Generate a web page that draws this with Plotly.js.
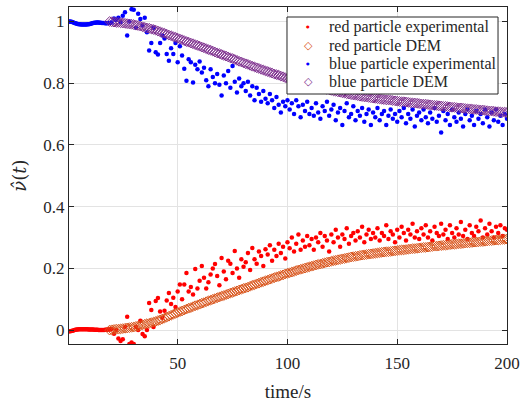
<!DOCTYPE html>
<html>
<head>
<meta charset="utf-8">
<script src="https://cdn.plot.ly/plotly-3.0.1.min.js"></script>
<style>html,body{margin:0;padding:0;background:#fff;}#chart{width:527px;height:403px;}</style>
</head>
<body>
<div id="chart"></div>
<script>
// ---- sampling of the experimental record ----
var earlyStart = 0.5, earlyStep = 0.5;   // dense part, t = 0.5 .. 20
var lateStart = 21, lateStep = 1;        // scattered part, t = 21 .. 200
var demStart = 19, demStep = 1;          // DEM output, t = 19 .. 200

// ---- red particle experimental ----
var redExpEarly = [-0.004,-0.004,-0.003,-0.002,-0.001,0.0,0.001,0.002,0.002,0.003,
  0.003,0.003,0.003,0.003,0.003,0.003,0.003,0.003,0.002,0.002,
  0.002,0.002,0.002,0.001,0.001,0.001,0.001,0.0,0.0,0.0,
  0.0,0.0,0.0,0.001,0.001,0.002,0.002,0.002,0.003,0.004];
var redExpLate = [
  -0.012,0.0,-0.027,-0.035,-0.03,0.01,0.043,-0.045,-0.04,-0.045,
  0.01,0.0,0.03,-0.013,-0.02,0.0,0.088,0.065,0.01,0.094,
  0.104,0.06,0.04,0.063,0.096,0.12,0.085,0.105,0.075,0.125,
  0.148,0.1,0.148,0.185,0.125,0.14,0.115,0.198,0.135,0.16,
  0.208,0.17,0.135,0.155,0.18,0.2,0.214,0.175,0.145,0.234,
  0.19,0.165,0.225,0.215,0.185,0.256,0.2,0.17,0.23,0.205,
  0.22,0.25,0.195,0.266,0.23,0.215,0.255,0.24,0.208,0.262,
  0.245,0.275,0.225,0.26,0.24,0.28,0.25,0.27,0.232,0.285,
  0.265,0.3,0.255,0.28,0.31,0.26,0.29,0.27,0.305,0.275,
  0.295,0.26,0.3,0.285,0.315,0.27,0.305,0.29,0.255,0.31,
  0.285,0.325,0.3,0.27,0.31,0.295,0.33,0.28,0.305,0.315,
  0.29,0.32,0.3,0.335,0.285,0.31,0.325,0.295,0.315,0.3,
  0.33,0.29,0.315,0.305,0.34,0.295,0.32,0.31,0.285,0.325,
  0.3,0.335,0.315,0.29,0.325,0.31,0.345,0.3,0.32,0.295,
  0.33,0.31,0.34,0.3,0.32,0.29,0.335,0.315,0.305,0.345,
  0.31,0.325,0.295,0.34,0.315,0.3,0.33,0.31,0.35,0.305,
  0.325,0.295,0.34,0.315,0.305,0.335,0.32,0.355,0.3,0.33,
  0.31,0.345,0.32,0.3,0.335,0.315,0.34,0.305,0.33,0.325];

// ---- blue particle experimental ----
var blueExpEarly = [1.0,1.0,0.999,0.998,0.997,0.995,0.994,0.993,0.992,0.991,
  0.991,0.99,0.99,0.99,0.99,0.99,0.99,0.991,0.991,0.992,
  0.993,0.994,0.995,0.996,0.996,0.997,0.997,0.997,0.996,0.996,
  0.995,0.995,0.995,0.994,0.994,0.994,0.995,0.995,0.996,0.997];
var blueExpLate = [
  1.01,1.005,1.012,0.998,1.019,1.03,0.955,1.0,1.04,1.038,
  0.98,1.025,1.008,0.987,1.012,0.965,0.906,0.93,0.98,0.9,
  0.893,0.93,0.955,0.945,0.895,0.873,0.913,0.895,0.93,0.868,
  0.92,0.89,0.847,0.808,0.878,0.868,0.802,0.86,0.845,0.87,
  0.835,0.85,0.81,0.79,0.845,0.82,0.8,0.83,0.795,0.76,
  0.825,0.8,0.84,0.785,0.856,0.805,0.77,0.815,0.79,0.8,
  0.775,0.805,0.76,0.79,0.745,0.785,0.765,0.74,0.775,0.75,
  0.735,0.765,0.745,0.72,0.755,0.73,0.705,0.74,0.725,0.745,
  0.715,0.735,0.7,0.745,0.725,0.69,0.73,0.71,0.74,0.7,
  0.72,0.695,0.735,0.705,0.685,0.725,0.71,0.74,0.695,0.715,
  0.73,0.68,0.705,0.72,0.665,0.71,0.735,0.69,0.7,0.725,
  0.68,0.71,0.695,0.72,0.675,0.7,0.715,0.665,0.705,0.69,
  0.72,0.68,0.7,0.71,0.665,0.695,0.715,0.685,0.7,0.675,
  0.71,0.69,0.72,0.67,0.7,0.685,0.715,0.66,0.695,0.705,
  0.68,0.715,0.69,0.67,0.705,0.685,0.72,0.675,0.695,0.64,
  0.71,0.68,0.7,0.665,0.715,0.69,0.675,0.705,0.685,0.66,
  0.7,0.715,0.68,0.695,0.665,0.71,0.685,0.7,0.67,0.715,
  0.69,0.66,0.705,0.68,0.715,0.675,0.695,0.665,0.7,0.685];

// ---- DEM ----
var redDEM = [
  0.0,0.001,0.002,0.003,0.003,0.004,0.005,0.006,0.007,0.008,0.009,0.010,
  0.012,0.013,0.015,0.017,0.019,0.021,0.022,0.024,0.026,0.028,
  0.031,0.033,0.036,0.039,0.042,0.045,0.048,0.051,0.054,0.057,
  0.060,0.062,0.065,0.068,0.071,0.073,0.076,0.079,0.081,0.084,
  0.087,0.089,0.092,0.095,0.097,0.100,0.102,0.105,0.107,0.110,
  0.112,0.115,0.117,0.120,0.122,0.125,0.127,0.130,0.132,0.135,
  0.137,0.139,0.142,0.145,0.147,0.150,0.152,0.155,0.157,0.160,
  0.162,0.165,0.167,0.170,0.172,0.174,0.177,0.179,0.182,0.184,
  0.186,0.188,0.190,0.193,0.195,0.197,0.199,0.201,0.203,0.205,
  0.207,0.209,0.211,0.213,0.214,0.216,0.218,0.220,0.221,0.223,
  0.225,0.226,0.228,0.229,0.231,0.232,0.234,0.235,0.237,0.238,
  0.239,0.240,0.242,0.243,0.244,0.245,0.246,0.247,0.248,0.249,
  0.250,0.251,0.252,0.253,0.254,0.254,0.255,0.256,0.257,0.258,
  0.259,0.260,0.260,0.261,0.262,0.263,0.264,0.264,0.265,0.266,
  0.267,0.268,0.268,0.269,0.270,0.271,0.272,0.272,0.273,0.274,
  0.275,0.275,0.276,0.277,0.278,0.278,0.279,0.280,0.280,0.281,
  0.282,0.283,0.283,0.284,0.285,0.285,0.286,0.287,0.287,0.288,
  0.289,0.290,0.290,0.291,0.292,0.292,0.293,0.294,0.294,0.295];
var blueDEM = [
  1.0,0.999,0.998,0.997,0.997,0.996,0.995,0.994,0.993,0.992,0.991,0.99,
  0.988,0.987,0.985,0.983,0.981,0.979,0.978,0.976,0.974,0.972,
  0.969,0.967,0.964,0.962,0.959,0.956,0.954,0.951,0.949,0.946,
  0.943,0.941,0.938,0.935,0.933,0.930,0.928,0.925,0.923,0.920,
  0.917,0.915,0.912,0.909,0.907,0.904,0.901,0.898,0.896,0.893,
  0.890,0.888,0.885,0.882,0.880,0.877,0.874,0.871,0.869,0.866,
  0.863,0.861,0.858,0.855,0.853,0.850,0.848,0.845,0.843,0.840,
  0.838,0.835,0.833,0.830,0.828,0.826,0.823,0.821,0.818,0.816,
  0.814,0.812,0.810,0.807,0.805,0.803,0.801,0.799,0.797,0.795,
  0.793,0.791,0.789,0.787,0.786,0.784,0.782,0.780,0.779,0.777,
  0.775,0.774,0.772,0.771,0.769,0.768,0.766,0.765,0.763,0.762,
  0.761,0.760,0.758,0.757,0.756,0.755,0.754,0.753,0.752,0.751,
  0.750,0.749,0.748,0.747,0.746,0.746,0.745,0.744,0.743,0.742,
  0.741,0.740,0.740,0.739,0.738,0.737,0.736,0.736,0.735,0.734,
  0.733,0.732,0.732,0.731,0.730,0.729,0.728,0.728,0.727,0.726,
  0.725,0.725,0.724,0.723,0.722,0.722,0.721,0.720,0.720,0.719,
  0.718,0.717,0.717,0.716,0.715,0.715,0.714,0.713,0.713,0.712,
  0.711,0.710,0.710,0.709,0.708,0.708,0.707,0.706,0.706,0.705];

var xTickVals = [50, 100, 150, 200];
var yTickVals = [0, 0.2, 0.4, 0.6, 0.8, 1];
var yTickText = ['0', '0.2', '0.4', '0.6', '0.8', '1'];
var legendNames = ['red particle experimental', 'red particle DEM',
                   'blue particle experimental', 'blue particle DEM'];
var seriesColors = ['#ff0000', '#D95319', '#0000ff', '#7E2F8E'];
var legendGlyphs = ['\u25CF', '\u25C7', '\u25CF', '\u25C7'];

function times(start, step, n) { var t = []; for (var i = 0; i < n; i++) t.push(start + i * step); return t; }
var tExp = times(earlyStart, earlyStep, redExpEarly.length).concat(times(lateStart, lateStep, redExpLate.length));
var tDEM = times(demStart, demStep, redDEM.length);

var FONT = 'Liberation Serif, Times New Roman, serif';
var TXT = '#262626';

var dotMarker = function (c) { return {color: c, size: 4.5, symbol: 'circle', line: {width: 0}}; };
var diaMarker = function (c) { return {color: c, size: 7.5, symbol: 'diamond-open', line: {width: 1}}; };

var traces = [
  {x: tExp, y: redExpEarly.concat(redExpLate), name: legendNames[0], type: 'scatter', mode: 'markers', marker: dotMarker(seriesColors[0])},
  {x: tDEM, y: redDEM, name: legendNames[1], type: 'scatter', mode: 'markers', marker: diaMarker(seriesColors[1])},
  {x: tExp, y: blueExpEarly.concat(blueExpLate), name: legendNames[2], type: 'scatter', mode: 'markers', marker: dotMarker(seriesColors[2])},
  {x: tDEM, y: blueDEM, name: legendNames[3], type: 'scatter', mode: 'markers', marker: diaMarker(seriesColors[3])}
];

// ---- legend box (drawn as layout shapes / annotations in paper coordinates) ----
var legBox = {x0: 0.4977, x1: 0.9795, y0: 0.7418, y1: 0.9703};
var legRows = [0.9407, 0.8852, 0.8309, 0.7783];
var legSymX = 0.5457, legTextX = 0.589;

var annotations = [];
for (var i = 0; i < legendNames.length; i++) {
  var isDia = legendGlyphs[i] === '\u25C7';
  annotations.push({xref: 'paper', yref: 'paper', x: legSymX, y: legRows[i], xanchor: 'center', yanchor: 'middle',
    text: legendGlyphs[i], showarrow: false,
    font: {family: 'DejaVu Sans', size: isDia ? 11 : 4, color: seriesColors[i]}});
  annotations.push({xref: 'paper', yref: 'paper', x: legTextX, y: legRows[i], xanchor: 'left', yanchor: 'middle',
    text: legendNames[i], showarrow: false,
    font: {family: FONT, size: 16, color: TXT}});
}

var axisCommon = {
  showline: true, linecolor: TXT, linewidth: 1, mirror: 'ticks',
  ticks: 'inside', ticklen: 5, tickcolor: TXT, tickwidth: 1,
  showgrid: true, gridcolor: '#e3e3e3', gridwidth: 1, zeroline: false,
  tickfont: {family: FONT, size: 17, color: TXT}
};

var layout = {
  width: 527, height: 403,
  margin: {l: 69, r: 20, t: 7, b: 59},
  paper_bgcolor: '#ffffff', plot_bgcolor: '#ffffff',
  showlegend: false,
  xaxis: Object.assign({}, axisCommon, {
    range: [0.5, 200], tickmode: 'array', tickvals: xTickVals, ticklabelstandoff: 4,
    title: {text: 'time/s', font: {family: FONT, size: 19, color: TXT}, standoff: 12}
  }),
  yaxis: Object.assign({}, axisCommon, {
    range: [-0.045, 1.047], tickmode: 'array', tickvals: yTickVals, ticktext: yTickText,
    title: {text: '<i>\u03BD\u0302</i>(<i>t</i>)', font: {family: 'DejaVu Serif', size: 18, color: TXT}, standoff: 12}
  }),
  shapes: [{type: 'rect', xref: 'paper', yref: 'paper', x0: legBox.x0, x1: legBox.x1, y0: legBox.y0, y1: legBox.y1,
    line: {color: TXT, width: 1}, fillcolor: '#ffffff', layer: 'above'}],
  annotations: annotations
};

Plotly.newPlot('chart', traces, layout, {displayModeBar: false, staticPlot: true});
</script>
</body>
</html>
